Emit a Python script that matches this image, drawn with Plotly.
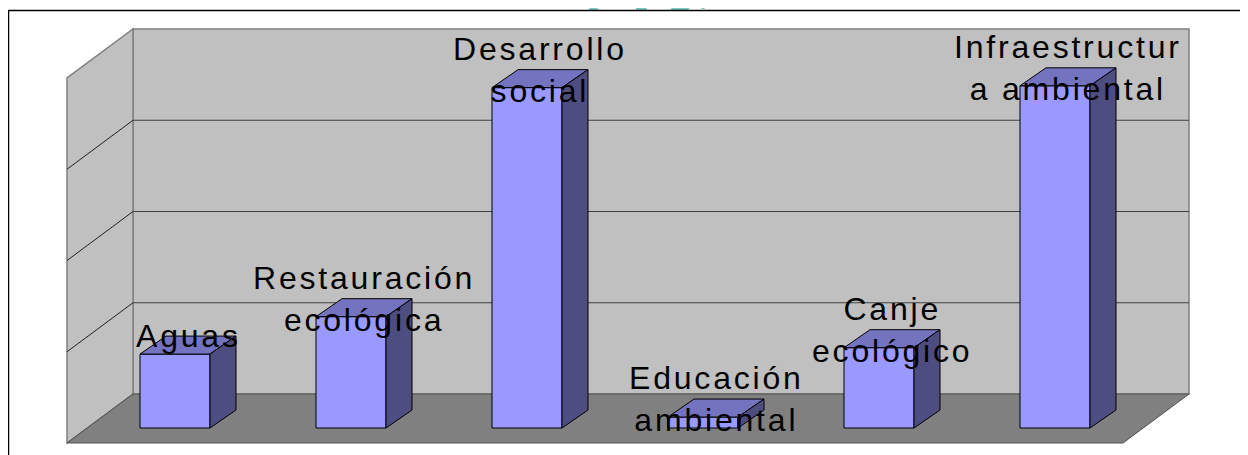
import plotly.graph_objects as go

# ---------------- data ----------------
categories = ["Aguas", "Restauración ecológica", "Desarrollo social",
              "Educación ambiental", "Canje ecológico", "Infraestructura ambiental"]
label_lines = [["Aguas"], ["Restauración", "ecológica"], ["Desarrollo", "social"],
               ["Educación", "ambiental"], ["Canje", "ecológico"],
               ["Infraestructur", "a ambiental"]]
values = [8.1, 12.2, 37.3, 1.2, 8.8, 37.5]
y_ticks = [0, 10, 20, 30, 40]

# ---------------- geometry (pixel scale of the axes) ----------------
PAGE = 8                     # default page margin of the html body
W, H = 1248 - PAGE, 455 - PAGE
PX_X = 176.0                 # px per category step
X0_PX = 175.0 - PAGE         # px position of category 0 centre
PX_Y = 9.125                 # px per value unit
Y0_PX = 428.0 - PAGE         # px position of value 0 (front plane of bars)


def off(dx_px, dy_px):
    """pixel offset (right, up) -> data offset"""
    return dx_px / PX_X, dy_px / PX_Y


x_range = [-X0_PX / PX_X, (W - X0_PX) / PX_X]
y_range = [(Y0_PX - H) / PX_Y, Y0_PX / PX_Y]

BAR_W = 70 / PX_X
bdx, bdy = off(26, 18)      # bar depth
bkx, bky = off(46, 34)      # bar front plane -> back wall
fx, fy = off(-20, -15)      # bar front plane -> front edge of floor

idx = list(range(len(categories)))
xl, xr = idx[0] - 0.5, idx[-1] + 0.5
ymax = y_ticks[-1]

C_WALL = "#C0C0C0"
C_FLOOR = "#808080"
C_FRONT = "#9999FF"
C_TOP = "#7373BF"
C_SIDE = "#4D4D80"


def path(pts):
    return "M " + " L ".join(f"{x:.5f},{y:.5f}" for x, y in pts) + " Z"


shapes = []
# back wall
shapes.append(dict(type="path", layer="below", xref="x", yref="y",
                   path=path([(xl + bkx, bky), (xr + bkx, bky), (xr + bkx, ymax + bky), (xl + bkx, ymax + bky)]),
                   fillcolor=C_WALL, line=dict(color="#808080", width=1.5)))
# left wall
shapes.append(dict(type="path", layer="below", xref="x", yref="y",
                   path=path([(xl + fx, fy), (xl + bkx, bky), (xl + bkx, ymax + bky), (xl + fx, ymax + fy)]),
                   fillcolor=C_WALL, line=dict(color="#808080", width=1.5)))
# floor
shapes.append(dict(type="path", layer="below", xref="x", yref="y",
                   path=path([(xl + fx, fy), (xr + fx, fy), (xr + bkx, bky), (xl + bkx, bky)]),
                   fillcolor=C_FLOOR, line=dict(color="#505050", width=1)))
# grid lines
for t in y_ticks[1:-1]:
    shapes.append(dict(type="line", layer="below", xref="x", yref="y",
                       x0=xl + bkx, x1=xr + bkx, y0=t + bky, y1=t + bky,
                       line=dict(color="#404040", width=1)))
    shapes.append(dict(type="line", layer="below", xref="x", yref="y",
                       x0=xl + fx, x1=xl + bkx, y0=t + fy, y1=t + bky,
                       line=dict(color="#202020", width=1)))

# bar top and side faces
for i, v in zip(idx, values):
    a, b = i - BAR_W / 2, i + BAR_W / 2
    shapes.append(dict(type="path", layer="above", xref="x", yref="y",
                       path=path([(a, v), (b, v), (b + bdx, v + bdy), (a + bdx, v + bdy)]),
                       fillcolor=C_TOP, line=dict(color="black", width=1)))
    shapes.append(dict(type="path", layer="above", xref="x", yref="y",
                       path=path([(b, 0), (b + bdx, bdy), (b + bdx, v + bdy), (b, v)]),
                       fillcolor=C_SIDE, line=dict(color="black", width=1)))


def px_paper(x, y):
    return (x - PAGE) / W, 1 - (y - PAGE) / H


# outer frame
fx0, fy1 = px_paper(8.5, 10.5)
shapes.append(dict(type="rect", xref="paper", yref="paper", layer="above",
                   x0=fx0, x1=1.05, y0=-0.05, y1=fy1,
                   line=dict(color="black", width=1.5), fillcolor="rgba(0,0,0,0)"))

# watermark fragments at the top edge
for poly in ([(588, 10), (594, 4), (599, 10)],
             [(636, 10), (636, 2), (640, 0), (651, 0), (646, 10)],
             [(670, 10), (679, 0), (697, 0), (688, 10)],
             [(701, 9), (703, 6), (705, 9)]):
    pts = [px_paper(x, y) for x, y in poly]
    shapes.append(dict(type="path", xref="paper", yref="paper", layer="below",
                       path="M " + " L ".join(f"{x:.5f},{y:.5f}" for x, y in pts) + " Z",
                       fillcolor="#79CBC2", line=dict(width=0)))

lx, ly = off(13, 18)
annotations = []
for i, v, lines in zip(idx, values, label_lines):
    txt = "<br>".join(f'<span style="letter-spacing:2.8px">{s}</span>' for s in lines)
    annotations.append(dict(x=i + lx, y=v + ly, xref="x", yref="y", text=txt,
                            showarrow=False, xanchor="center", yanchor="middle",
                            font=dict(family="Liberation Sans, Arial, sans-serif", size=32, color="black")))

fig = go.Figure(go.Bar(x=idx, y=values, width=BAR_W, hovertext=categories,
                       marker=dict(color=C_FRONT, line=dict(color="black", width=1))))

fig.update_layout(
    width=W, height=H,
    margin=dict(l=0, r=0, t=0, b=0),
    paper_bgcolor="white", plot_bgcolor="white",
    showlegend=False,
    xaxis=dict(range=x_range, visible=False, fixedrange=True),
    yaxis=dict(range=y_range, visible=False, fixedrange=True),
    shapes=shapes, annotations=annotations,
)

fig.write_html("out.html")
